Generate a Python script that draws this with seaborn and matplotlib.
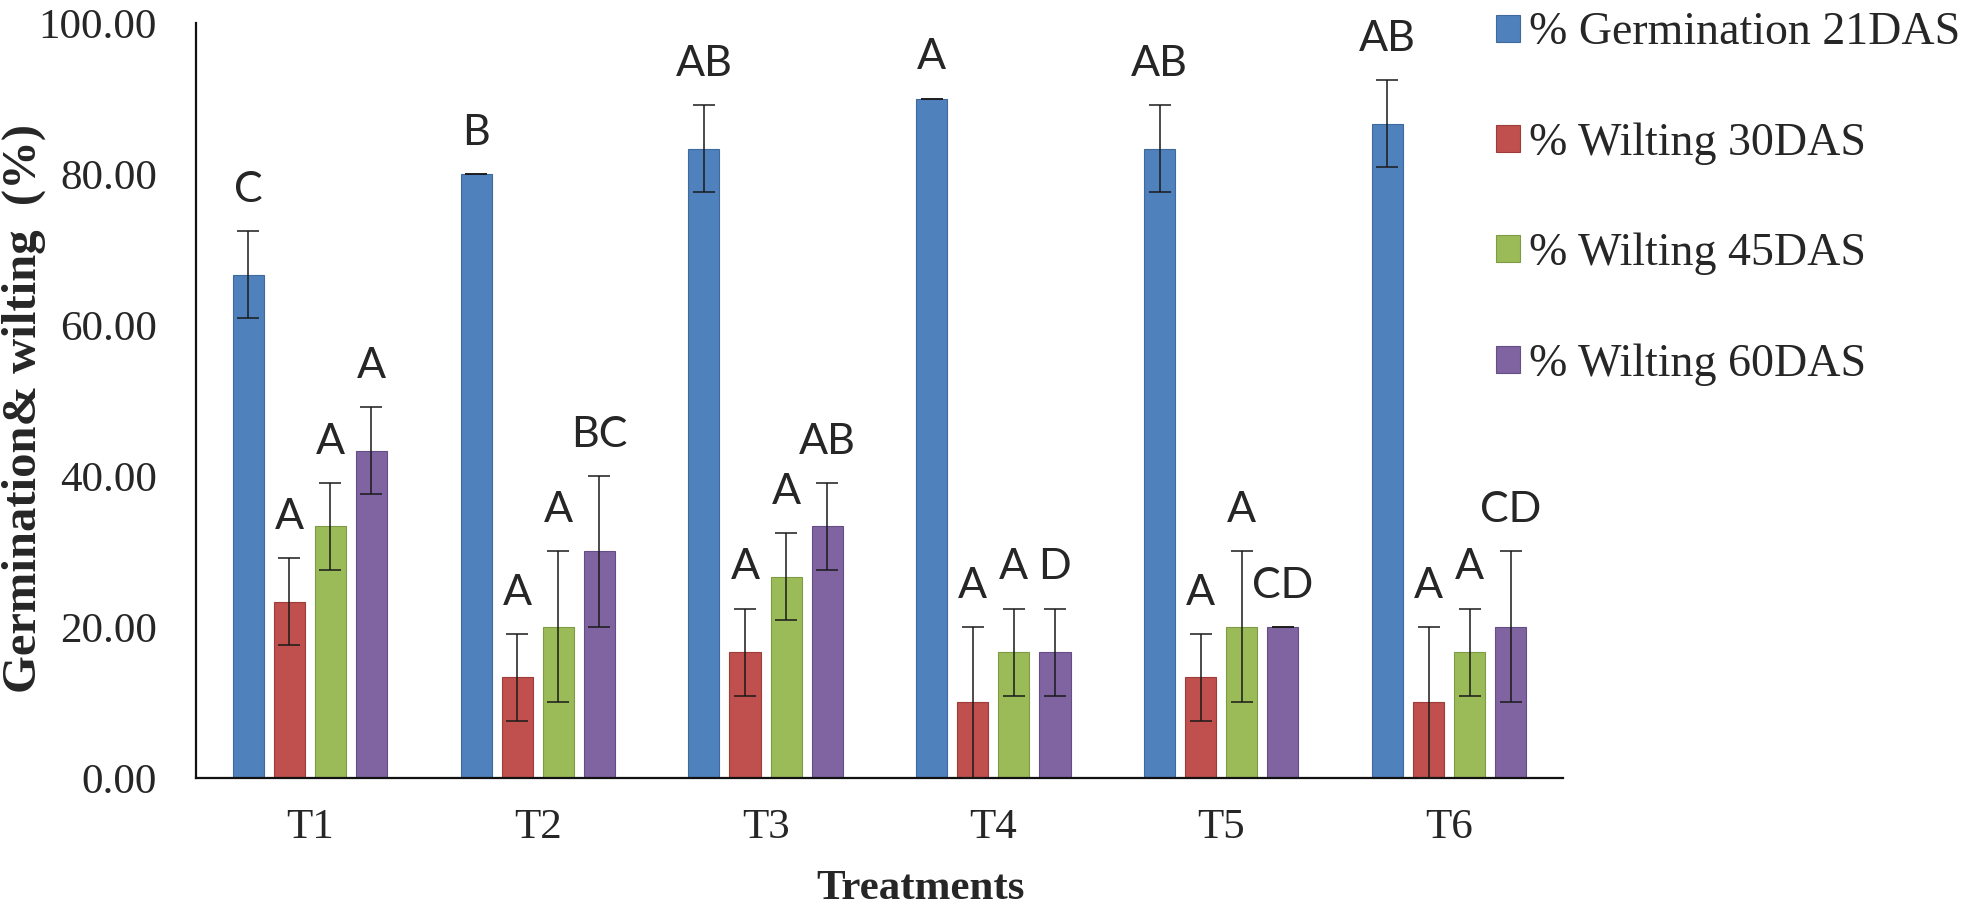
import pandas as pd
import seaborn as sns
import matplotlib.pyplot as plt

treatments = ['T1', 'T2', 'T3', 'T4', 'T5', 'T6']
series = ['% Germination 21DAS', '% Wilting 30DAS', '% Wilting 45DAS', '% Wilting 60DAS']

germ_21 = [66.67, 80.00, 83.33, 90.00, 83.33, 86.67]
wilt_30 = [23.33, 13.33, 16.67, 10.00, 13.33, 10.00]
wilt_45 = [33.33, 20.00, 26.67, 16.67, 20.00, 16.67]
wilt_60 = [43.33, 30.00, 33.33, 16.67, 20.00, 20.00]

se_21 = [5.77, 0.00, 5.77, 0.00, 5.77, 5.77]
se_30 = [5.77, 5.77, 5.77, 10.00, 5.77, 10.00]
se_45 = [5.77, 10.00, 5.77, 5.77, 10.00, 5.77]
se_60 = [5.77, 10.00, 5.77, 5.77, 0.00, 10.00]

letters_21 = ['C', 'B', 'AB', 'A', 'AB', 'AB']
letters_30 = ['A', 'A', 'A', 'A', 'A', 'A']
letters_45 = ['A', 'A', 'A', 'A', 'A', 'A']
letters_60 = ['A', 'BC', 'AB', 'D', 'CD', 'CD']

colors = ['#4F81BD', '#C0504D', '#9BBB59', '#8064A2']
edges = ['#3F6A9E', '#9E3C3A', '#7E9A45', '#654E85']

means = [germ_21, wilt_30, wilt_45, wilt_60]
errs = [se_21, se_30, se_45, se_60]
letters = [letters_21, letters_30, letters_45, letters_60]

rows = []
for s, vals in zip(series, means):
    for t, v in zip(treatments, vals):
        rows.append({'Treatment': t, 'Series': s, 'Value': v})
df = pd.DataFrame(rows)

sns.set_style('white')
plt.rcParams['font.family'] = ['Liberation Serif', 'DejaVu Serif']

fig = plt.figure(figsize=(19.69, 9.06), dpi=100)
ax = fig.add_axes([0.0995, 0.1413, 0.6943, 0.8333])

sns.barplot(data=df, x='Treatment', y='Value', hue='Series', hue_order=series,
            order=treatments, palette=colors, width=0.721, gap=0.244,
            errorbar=None, ax=ax, legend=False, saturation=1)

bar_conts = list(ax.containers)
for i, cont in enumerate(bar_conts):
    for p in cont.patches:
        p.set_edgecolor(edges[i])
        p.set_linewidth(0.8)
    xs = [p.get_x() + p.get_width() / 2 for p in cont.patches]
    ax.errorbar(xs, means[i], yerr=errs[i], fmt='none', ecolor='#1a1a1a',
                elinewidth=1.1, capsize=8, capthick=1.1, zorder=5)
    for x, m, e, lab in zip(xs, means[i], errs[i], letters[i]):
        ax.annotate(lab, (x, m + e), xytext=(0, 16), textcoords='offset points',
                    ha='center', va='bottom', fontsize=31, family=['Lato', 'DejaVu Sans'])

ax.set_xlim(-0.5, 5.5)
ax.set_ylim(0, 100)
ax.set_yticks(range(0, 101, 20))
ax.set_yticklabels([f'{v:.2f}' for v in range(0, 101, 20)])
ax.tick_params(axis='both', length=0, labelsize=31)
ax.tick_params(axis='y', pad=28)
ax.tick_params(axis='x', pad=22)

for s in ['top', 'right']:
    ax.spines[s].set_visible(False)
for s in ['left', 'bottom']:
    ax.spines[s].set_color('#111111')
    ax.spines[s].set_linewidth(1.6)

ax.set_xlabel('Treatments', fontsize=31, fontweight='bold')
ax.set_ylabel('Germination& wilting  (%)', fontsize=35, fontweight='bold')
ax.yaxis.label.set_va('center')
ax.xaxis.set_label_coords(0.530, -0.122)
ax.yaxis.set_label_coords(-0.126, 0.489)

handles = [c.patches[0] for c in bar_conts]
ax.legend(handles, series, loc='upper left', bbox_to_anchor=(1496 / 1969, 1 - 12 / 906),
          bbox_transform=fig.transFigure, frameon=False, fontsize=33,
          handlelength=0.53, handleheight=0.53, handletextpad=0.2,
          labelspacing=1.48, borderpad=0, borderaxespad=0)

fig.savefig('out.png', dpi=100)
